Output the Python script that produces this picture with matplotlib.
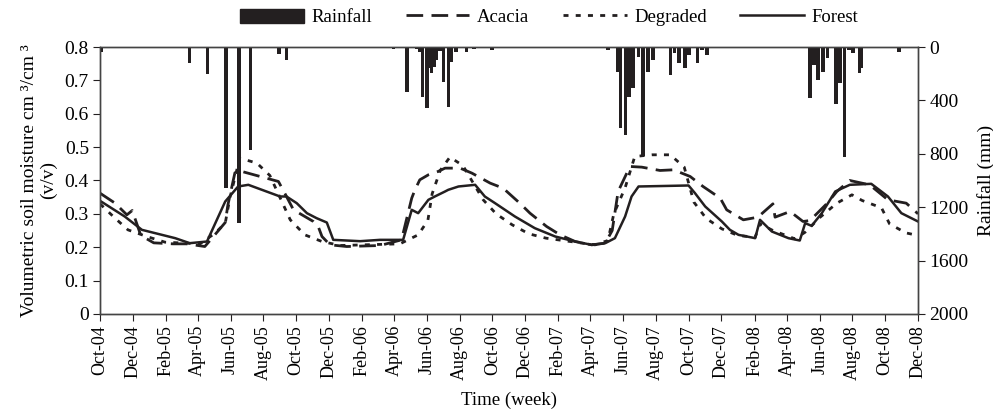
import pandas as pd
import matplotlib.pyplot as plt
import matplotlib.dates as mdates
from matplotlib.patches import Patch
from matplotlib.lines import Line2D

plt.rcParams['font.family'] = ['Liberation Serif', 'DejaVu Serif']
plt.rcParams['font.size'] = 14

# weekly rainfall (mm)
rain_dates = ['2004-10-03', '2005-03-17', '2005-04-19', '2005-05-23', '2005-06-17', '2005-07-08',
              '2005-08-30', '2005-09-13', '2006-03-31', '2006-04-25', '2006-05-13', '2006-05-19',
              '2006-05-24', '2006-06-01', '2006-06-06', '2006-06-10', '2006-06-15', '2006-06-19',
              '2006-06-26', '2006-07-02', '2006-07-11', '2006-07-17', '2006-07-25', '2006-08-14',
              '2006-08-28', '2006-09-30', '2007-04-05', '2007-04-13', '2007-05-04', '2007-05-14',
              '2007-05-23', '2007-05-27', '2007-06-06', '2007-06-12', '2007-06-20', '2007-06-30',
              '2007-07-08', '2007-07-18', '2007-07-27', '2007-08-28', '2007-09-05', '2007-09-13',
              '2007-09-24', '2007-10-02', '2007-10-18', '2007-10-26', '2007-11-04', '2008-05-14',
              '2008-05-21', '2008-05-29', '2008-06-07', '2008-06-16', '2008-07-01', '2008-07-09',
              '2008-07-17', '2008-07-26', '2008-08-02', '2008-08-14', '2008-08-18', '2008-10-27']
rain_mm = [35, 118, 202, 1060, 1320, 772,
           52, 100, 17, 335, 15, 35,
           372, 460, 160, 197, 147, 97,
           30, 265, 447, 110, 35, 35,
           15, 20, 10, 10, 20, 10,
           185, 610, 660, 372, 310, 72,
           817, 185, 97, 210, 47, 122,
           160, 60, 118, 22, 60, 385,
           135, 247, 185, 85, 427, 272,
           827, 25, 47, 197, 160, 35]

# soil moisture (cm3/cm3)
forest_dates = ['2004-10-03', '2004-11-16', '2004-12-18', '2005-02-18', '2005-03-17', '2005-04-18',
                '2005-05-22', '2005-06-15', '2005-07-04', '2005-09-01', '2005-09-13', '2005-10-02',
                '2005-10-21', '2005-11-08', '2005-11-27', '2005-12-09', '2006-01-28', '2006-03-06',
                '2006-04-18', '2006-05-04', '2006-05-16', '2006-06-04', '2006-06-16', '2006-07-05',
                '2006-07-11', '2006-07-30', '2006-08-30', '2006-09-17', '2006-10-06', '2006-11-12',
                '2006-12-19', '2007-01-26', '2007-03-04', '2007-04-04', '2007-04-29', '2007-05-17',
                '2007-06-05', '2007-06-17', '2007-06-30', '2007-10-01', '2007-10-13', '2007-11-01',
                '2007-12-02', '2007-12-17', '2008-01-02', '2008-02-02', '2008-02-11', '2008-03-04',
                '2008-04-04', '2008-04-25', '2008-05-05', '2008-05-17', '2008-06-05', '2008-06-30',
                '2008-07-27', '2008-09-05', '2008-10-06', '2008-10-31', '2008-12-01']
forest = [0.337, 0.292, 0.252, 0.227, 0.212, 0.217,
          0.337, 0.382, 0.387, 0.352, 0.352, 0.332,
          0.302, 0.287, 0.274, 0.222, 0.218, 0.222,
          0.222, 0.312, 0.302, 0.342, 0.352, 0.367,
          0.372, 0.382, 0.387, 0.352, 0.332, 0.292,
          0.257, 0.232, 0.217, 0.207, 0.212, 0.227,
          0.292, 0.352, 0.382, 0.385, 0.362, 0.322,
          0.277, 0.252, 0.237, 0.227, 0.282, 0.247,
          0.227, 0.220, 0.272, 0.264, 0.302, 0.367,
          0.387, 0.390, 0.352, 0.302, 0.277]

acacia_dates = ['2004-10-01', '2004-10-29', '2004-11-20', '2004-11-30', '2004-12-16', '2005-01-09',
                '2005-02-14', '2005-03-11', '2005-04-14', '2005-04-30', '2005-05-22', '2005-05-27',
                '2005-06-09', '2005-06-22', '2005-07-26', '2005-08-29', '2005-09-12', '2005-09-26',
                '2005-11-02', '2005-11-11', '2005-11-18', '2005-12-03', '2006-01-03', '2006-03-06',
                '2006-04-15', '2006-05-04', '2006-05-10', '2006-05-19', '2006-06-04', '2006-06-22',
                '2006-07-05', '2006-08-02', '2006-08-24', '2006-09-27', '2006-10-21', '2006-11-21',
                '2006-12-10', '2007-01-10', '2007-02-04', '2007-03-04', '2007-04-04', '2007-04-29',
                '2007-05-12', '2007-05-23', '2007-06-14', '2007-07-06', '2007-08-09', '2007-09-03',
                '2007-10-04', '2007-10-28', '2007-11-29', '2007-12-11', '2008-01-11', '2008-02-07',
                '2008-03-06', '2008-03-10', '2008-04-07', '2008-05-01', '2008-05-14', '2008-06-14',
                '2008-07-03', '2008-07-27', '2008-09-02', '2008-10-06', '2008-11-09', '2008-12-01']
acacia = [0.362, 0.332, 0.297, 0.310, 0.235, 0.213,
          0.210, 0.210, 0.202, 0.232, 0.274, 0.327,
          0.423, 0.427, 0.412, 0.397, 0.355, 0.312,
          0.277, 0.262, 0.232, 0.207, 0.202, 0.205,
          0.222, 0.347, 0.372, 0.402, 0.417, 0.427,
          0.437, 0.437, 0.422, 0.392, 0.377, 0.332,
          0.302, 0.262, 0.237, 0.217, 0.207, 0.212,
          0.250, 0.367, 0.442, 0.440, 0.430, 0.432,
          0.412, 0.382, 0.347, 0.312, 0.282, 0.290,
          0.330, 0.290, 0.307, 0.277, 0.280, 0.330,
          0.367, 0.400, 0.387, 0.342, 0.332, 0.300]

degraded_dates = ['2004-10-01', '2004-10-27', '2004-11-22', '2004-12-27', '2005-01-30', '2005-04-05',
                  '2005-05-03', '2005-05-22', '2005-05-31', '2005-06-18', '2005-07-20', '2005-08-13',
                  '2005-09-20', '2005-10-17', '2005-11-18', '2005-12-22', '2006-04-12', '2006-05-16',
                  '2006-06-03', '2006-06-11', '2006-06-26', '2006-07-14', '2006-08-07', '2006-09-14',
                  '2006-10-08', '2006-11-07', '2006-12-08', '2007-01-09', '2007-03-04', '2007-04-10',
                  '2007-05-04', '2007-05-15', '2007-06-05', '2007-06-23', '2007-07-25', '2007-08-28',
                  '2007-09-23', '2007-10-11', '2007-11-03', '2007-12-02', '2008-01-01', '2008-02-02',
                  '2008-02-11', '2008-03-06', '2008-04-16', '2008-05-05', '2008-06-02', '2008-07-03',
                  '2008-07-31', '2008-08-19', '2008-09-24', '2008-10-09', '2008-11-08', '2008-12-01']
degraded = [0.330, 0.290, 0.252, 0.232, 0.215, 0.210,
            0.242, 0.272, 0.350, 0.467, 0.452, 0.415,
            0.282, 0.237, 0.217, 0.205, 0.210, 0.237,
            0.280, 0.360, 0.430, 0.470, 0.445, 0.342,
            0.300, 0.267, 0.240, 0.227, 0.215, 0.207,
            0.220, 0.300, 0.378, 0.472, 0.477, 0.477,
            0.440, 0.335, 0.286, 0.255, 0.235, 0.230,
            0.270, 0.250, 0.225, 0.245, 0.290, 0.332,
            0.357, 0.340, 0.318, 0.270, 0.243, 0.235]

tick_dates = pd.date_range('2004-10-01', '2008-12-01', freq='2MS')

fig = plt.figure(figsize=(9.93, 4.13), dpi=100)
ax = fig.add_axes([0.1007, 0.240, 0.8238, 0.646])

ax.plot(pd.to_datetime(acacia_dates), acacia, color='#231f20', lw=2.0, linestyle=(0, (6, 3)))
ax.plot(pd.to_datetime(degraded_dates), degraded, color='#231f20', lw=2.0, linestyle=(0, (1.8, 2.6)))
ax.plot(pd.to_datetime(forest_dates), forest, color='#231f20', lw=1.8)

ax.set_ylim(0, 0.8)
ax.set_yticks([0, 0.1, 0.2, 0.3, 0.4, 0.5, 0.6, 0.7, 0.8])
ax.set_yticklabels(['0', '0.1', '0.2', '0.3', '0.4', '0.5', '0.6', '0.7', '0.8'])
ax.set_xlim(pd.Timestamp('2004-10-01'), pd.Timestamp('2008-12-01'))
ax.set_xticks(tick_dates)
ax.xaxis.set_major_formatter(mdates.DateFormatter('%b-%y'))
plt.setp(ax.get_xticklabels(), rotation=90)
ax.tick_params(axis='x', labelsize=13)
fig.text(0.5125, 0.03, 'Time (week)', ha='center', va='center', fontsize=13.5)
ax.set_ylabel('Volumetric soil moisture cm ³/cm ³\n(v/v)', linespacing=1.15, labelpad=5)
ax.tick_params(length=5, color='#231f20', pad=3)

ax2 = ax.twinx()
ax2.bar(pd.to_datetime(rain_dates), rain_mm, width=6.5, color='#231f20')
ax2.set_ylim(2000, 0)
ax2.set_yticks([0, 400, 800, 1200, 1600, 2000])
ax2.set_ylabel('Rainfall (mm)', labelpad=6)
ax2.tick_params(length=5, color='#231f20', pad=3)

for a in (ax, ax2):
    for s in a.spines.values():
        s.set_color('#444444')
        s.set_linewidth(1.0)

handles = [Patch(color='#231f20'),
           Line2D([], [], color='#231f20', lw=2.0, linestyle=(0, (6, 3))),
           Line2D([], [], color='#231f20', lw=2.0, linestyle=(0, (1.8, 2.6))),
           Line2D([], [], color='#231f20', lw=1.8)]
fig.legend(handles, ['Rainfall', 'Acacia', 'Degraded', 'Forest'], loc='upper center',
           bbox_to_anchor=(0.553, 1.02), ncol=4, frameon=False, fontsize=13.5,
           handlelength=3.4, handleheight=0.8, columnspacing=1.8, handletextpad=0.4)

fig.savefig('out.png', dpi=100)
